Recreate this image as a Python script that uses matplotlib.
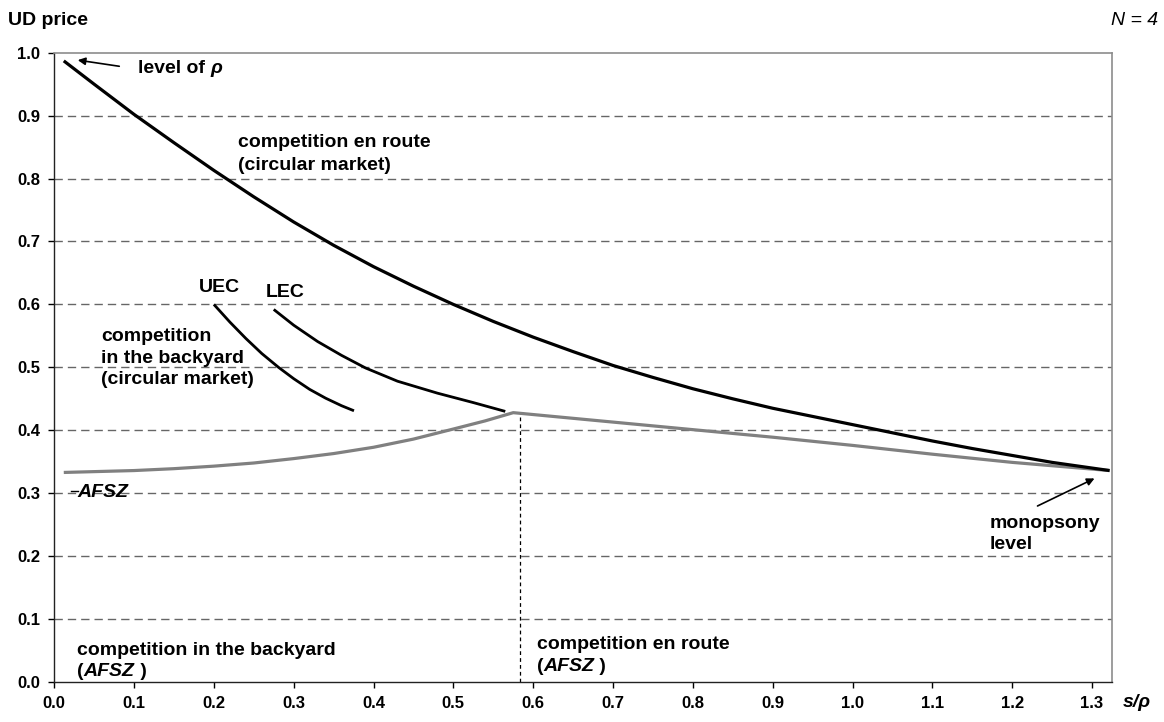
import matplotlib
matplotlib.use("Agg")
import matplotlib.pyplot as plt

plt.rcParams['font.family'] = ['Liberation Sans', 'DejaVu Sans']
FS = 14
TFS = 12

# ---- data ----
route_x = [0.012, 0.05, 0.1, 0.15, 0.2, 0.25, 0.3, 0.35, 0.4, 0.45, 0.5, 0.55, 0.6, 0.65,
           0.7, 0.75, 0.8, 0.85, 0.9, 0.95, 1.0, 1.05, 1.1, 1.15, 1.2, 1.25, 1.322]
route_y = [0.987, 0.950, 0.902, 0.857, 0.813, 0.771, 0.731, 0.694, 0.660, 0.629, 0.600, 0.573,
           0.548, 0.525, 0.503, 0.484, 0.466, 0.450, 0.435, 0.422, 0.409, 0.396, 0.383, 0.371,
           0.360, 0.349, 0.336]

afsz_x = [0.012, 0.1, 0.15, 0.2, 0.25, 0.3, 0.35, 0.4, 0.45, 0.5, 0.54, 0.575,
          0.7, 0.8, 0.9, 1.0, 1.1, 1.2, 1.322]
afsz_y = [0.333, 0.336, 0.339, 0.343, 0.348, 0.355, 0.363, 0.373, 0.386, 0.402, 0.415, 0.428,
          0.413, 0.401, 0.389, 0.376, 0.362, 0.349, 0.336]

uec_x = [0.200, 0.220, 0.240, 0.260, 0.281, 0.300, 0.320, 0.340, 0.360, 0.3755]
uec_y = [0.600, 0.572, 0.546, 0.522, 0.500, 0.482, 0.465, 0.451, 0.439, 0.431]

lec_x = [0.275, 0.300, 0.330, 0.360, 0.390, 0.430, 0.480, 0.525, 0.565]
lec_y = [0.592, 0.567, 0.541, 0.519, 0.499, 0.478, 0.459, 0.444, 0.430]

switch_x = 0.5835
switch_y = 0.428

x_ticks = [round(0.1 * i, 1) for i in range(14)]
y_ticks = [round(0.1 * i, 1) for i in range(11)]

# ---- figure ----
W, H = 1164, 722
fig = plt.figure(figsize=(W / 100, H / 100), dpi=100)
L, R, T, B = 54.2, 1112, 52.7, 682
ax = fig.add_axes([L / W, 1 - B / H, (R - L) / W, (B - T) / H])
ax.set_xlim(0, 1.325)
ax.set_ylim(0, 1.0)

for y in y_ticks[1:-1]:
    ax.axhline(y, color='#666666', lw=1.0, dashes=(6, 3.6), zorder=1)

ax.plot(route_x, route_y, color='black', lw=2.3, zorder=4, solid_capstyle='butt', solid_joinstyle='round')
ax.plot(afsz_x, afsz_y, color='#808080', lw=2.3, zorder=3, solid_capstyle='butt', solid_joinstyle='round')
ax.plot(uec_x, uec_y, color='black', lw=2.0, zorder=4, solid_capstyle='butt', solid_joinstyle='round')
ax.plot(lec_x, lec_y, color='black', lw=2.0, zorder=4, solid_capstyle='butt', solid_joinstyle='round')
ax.plot([switch_x, switch_x], [0, switch_y], color='black', lw=0.9, dashes=(3, 2.5), zorder=2)

ax.set_xticks(x_ticks)
ax.set_yticks(y_ticks)
ax.set_xticklabels([f"{v:.1f}" for v in x_ticks], fontweight='bold', fontsize=TFS)
ax.set_yticklabels([f"{v:.1f}" for v in y_ticks], fontweight='bold', fontsize=TFS)
ax.tick_params(axis='x', direction='out', length=4.3, width=1, pad=6, color='black')
ax.tick_params(axis='y', direction='out', length=4.0, width=1, pad=6, color='black')

for s in ['top', 'right']:
    ax.spines[s].set_color('#8c8c8c')
    ax.spines[s].set_linewidth(1.2)
for s in ['left', 'bottom']:
    ax.spines[s].set_color('#222222')
    ax.spines[s].set_linewidth(1.0)


def xd(px):
    return (px - L) / ((1092 - 134) / 1.2)


def yd(py):
    return (B - py) / 630.0


fig.canvas.draw()
renderer = fig.canvas.get_renderer()


def rich_px(px, py, parts):
    """Draw pieces on a shared baseline at figure-pixel position."""
    cur = px
    for s, kw in parts:
        txt = fig.text(cur / W, 1 - py / H, s, fontsize=FS, va='baseline', ha='left', **kw)
        ext = txt.get_window_extent(renderer=renderer)
        cur += ext.width


bold = dict(fontweight='bold')
bi = dict(fontweight='bold', fontstyle='italic')

# titles
fig.text(8 / W, 1 - 25 / H, "UD price", fontsize=FS, fontweight='bold', va='baseline', ha='left')
fig.text(1158 / W, 1 - 25 / H, "N = 4", fontsize=FS, fontstyle='italic', va='baseline', ha='right')
rich_px(1122.7, 707, [("s/ρ", bi)])

# annotations inside axes
rich_px(138, 73, [("level of ", bold), ("ρ", bi)])
ax.annotate("", xy=(xd(75), yd(59)), xytext=(xd(122), yd(66)),
            arrowprops=dict(arrowstyle='-|>', color='black', lw=1.2, mutation_scale=11))

ax.text(xd(237.7), yd(169), "competition en route\n(circular market)", fontsize=FS,
        fontweight='bold', va='baseline', ha='left', linespacing=1.42)
ax.text(xd(199.3), yd(291.7), "UEC", fontsize=FS, fontweight='bold', va='baseline')
ax.text(xd(265.7), yd(296.7), "LEC", fontsize=FS, fontweight='bold', va='baseline')
ax.text(xd(101), yd(384), "competition\nin the backyard\n(circular market)", fontsize=FS,
        fontweight='bold', va='baseline', ha='left', linespacing=1.36)
ax.text(xd(77.7), yd(497), "AFSZ", fontsize=FS, fontweight='bold', fontstyle='italic', va='baseline')
ax.plot([xd(71), xd(78)], [yd(491), yd(491)], color='black', lw=1.0)

ax.text(xd(77.3), yd(655), "competition in the backyard", fontsize=FS, fontweight='bold', va='baseline')
rich_px(77.3, 676, [("(", bold), ("AFSZ", bi), (" )", bold)])
ax.text(xd(537), yd(649), "competition en route", fontsize=FS, fontweight='bold', va='baseline')
rich_px(537, 671, [("(", bold), ("AFSZ", bi), (" )", bold)])

ax.text(xd(990), yd(549), "monopsony\nlevel", fontsize=FS, fontweight='bold', va='baseline',
        ha='left', linespacing=1.31)
ax.annotate("", xy=(xd(1097), yd(477)), xytext=(xd(1035), yd(507)),
            arrowprops=dict(arrowstyle='-|>', color='black', lw=1.2, mutation_scale=11))

fig.savefig("out.png", dpi=100)
